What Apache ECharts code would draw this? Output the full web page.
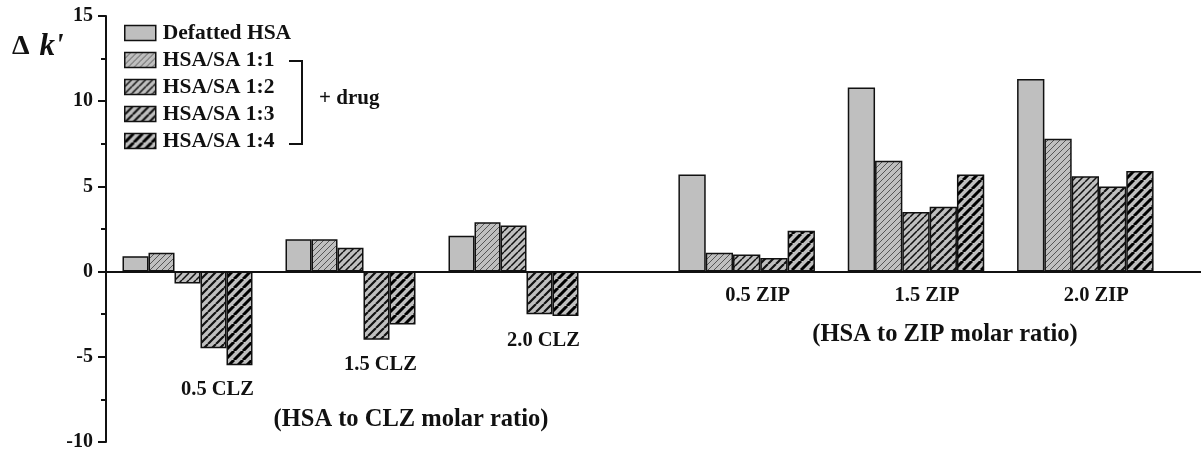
<!DOCTYPE html>
<html>
<head>
<meta charset="utf-8">
<script src="https://cdn.jsdelivr.net/npm/echarts@6/dist/echarts.min.js"></script>
<style>
html,body{margin:0;padding:0;background:#fff;}
#chart{width:1201px;height:455px;}
</style>
</head>
<body>
<div id="chart"></div>
<script>
// ---- data ----
const categoriesCLZ = ['0.5 CLZ', '1.5 CLZ', '2.0 CLZ'];
const categoriesZIP = ['0.5 ZIP', '1.5 ZIP', '2.0 ZIP'];
const seriesNames = ['Defatted HSA', 'HSA/SA 1:1', 'HSA/SA 1:2', 'HSA/SA 1:3', 'HSA/SA 1:4'];
const clzDefatted = [0.9, 1.9, 2.1];
const clz11 = [1.1, 1.9, 2.9];
const clz12 = [-0.7, 1.4, 2.7];
const clz13 = [-4.5, -4.0, -2.5];
const clz14 = [-5.5, -3.1, -2.6];
const zipDefatted = [5.7, 10.8, 11.3];
const zip11 = [1.1, 6.5, 7.8];
const zip12 = [1.0, 3.5, 5.6];
const zip13 = [0.8, 3.8, 5.0];
const zip14 = [2.4, 5.7, 5.9];
const yTickLabels = ['-10', '-5', '0', '5', '10', '15'];
const yMin = -10, yMax = 15, yInterval = 5;
const clzTitle = '(HSA to CLZ molar ratio)';
const zipTitle = '(HSA to ZIP molar ratio)';
const drugNote = '+ drug';

// ---- styles ----
const FONT = '"Liberation Serif", "Times New Roman", serif';
const GRAY = '#bfbfbf';
function hatch(lineColor, lw, s) {
  const c = document.createElement('canvas');
  c.width = s; c.height = s;
  const ctx = c.getContext('2d');
  ctx.fillStyle = GRAY;
  ctx.fillRect(0, 0, s, s);
  ctx.strokeStyle = lineColor;
  ctx.lineWidth = lw;
  ctx.beginPath();
  for (const k of [-s, 0, s]) {
    ctx.moveTo(k, s);
    ctx.lineTo(k + s, 0);
  }
  ctx.stroke();
  return { image: c, repeat: 'repeat' };
}
const fills = [
  GRAY,
  hatch('#555', 1, 6),
  hatch('#111', 1.5, 7),
  hatch('#111', 2.2, 8),
  hatch('#000', 3, 9)
];
const clzData = [clzDefatted, clz11, clz12, clz13, clz14];
const zipData = [zipDefatted, zip11, zip12, zip13, zip14];

function groupMins(data, cats) {
  return cats.map((c, i) => ({ name: c, value: Math.min(0, ...data.map(s => s[i])) }));
}

const gridTop = 16, gridBottom = 13;
const series = [];
seriesNames.forEach((n, k) => {
  const base = {
    type: 'bar', name: n, barGap: '0%',
    itemStyle: { color: fills[k], borderColor: '#111', borderWidth: 1.5 }
  };
  series.push(Object.assign({}, base, { xAxisIndex: 1, yAxisIndex: 1, barWidth: 26, data: clzData[k] }));
  series.push(Object.assign({}, base, { xAxisIndex: 2, yAxisIndex: 2, barWidth: 27.3, data: zipData[k] }));
});
const catLabel = { show: true, position: 'bottom', distance: 14, fontFamily: FONT, fontWeight: 'bold', fontSize: 20.5, color: '#111', opacity: 1, formatter: p => p.name };
series.push({ type: 'scatter', name: 'clzLabels', xAxisIndex: 1, yAxisIndex: 1, symbolSize: 0, silent: true,
  itemStyle: { opacity: 1 },
  label: Object.assign({}, catLabel, { offset: [30, 0] }), data: groupMins(clzData, categoriesCLZ) });
series.push({ type: 'scatter', name: 'zipLabels', xAxisIndex: 2, yAxisIndex: 2, symbolSize: 0, silent: true,
  itemStyle: { opacity: 1 },
  label: Object.assign({}, catLabel, { offset: [11, 0] }), data: groupMins(zipData, categoriesZIP) });

const hiddenY = (gi) => ({ type: 'value', gridIndex: gi, min: yMin, max: yMax, interval: yInterval, show: false });
const hiddenX = (gi, cats) => ({ type: 'category', gridIndex: gi, data: cats, axisLine: { show: false }, axisTick: { show: false }, axisLabel: { show: false } });

const option = {
  animation: false,
  backgroundColor: '#fff',
  grid: [
    { left: 106, right: 0, top: gridTop, bottom: gridBottom },
    { left: 106, width: 489, top: gridTop, bottom: gridBottom },
    { left: 662, width: 508, top: gridTop, bottom: gridBottom }
  ],
  xAxis: [
    { type: 'category', gridIndex: 0, data: [''], axisLine: { show: true, onZero: true, lineStyle: { color: '#111', width: 2 } }, axisTick: { show: false }, axisLabel: { show: false } },
    hiddenX(1, categoriesCLZ),
    hiddenX(2, categoriesZIP)
  ],
  yAxis: [
    { type: 'value', gridIndex: 0, min: yMin, max: yMax, interval: yInterval,
      axisLine: { show: true, lineStyle: { color: '#111', width: 2 } },
      axisTick: { show: true, length: 8, lineStyle: { color: '#111', width: 2 } },
      minorTick: { show: true, splitNumber: 2, length: 5, lineStyle: { color: '#111', width: 2 } },
      splitLine: { show: false },
      axisLabel: { margin: 13, fontFamily: FONT, fontWeight: 'bold', fontSize: 20, color: '#111',
        formatter: v => yTickLabels[Math.round((v - yMin) / yInterval)] } },
    hiddenY(1), hiddenY(2)
  ],
  legend: {
    data: seriesNames, orient: 'vertical', left: 124, top: 22, padding: 0,
    itemWidth: 31, itemHeight: 15, itemGap: 5, icon: 'rect',
    itemStyle: { borderColor: '#111', borderWidth: 1.5 },
    textStyle: { fontFamily: FONT, fontWeight: 'bold', fontSize: 21.5, lineHeight: 21, color: '#111', padding: [0, 0, 0, 2] }
  },
  graphic: [
    { type: 'text', left: 12, top: 31, style: { text: '{a|Δ}{b|k\'}', rich: {
        a: { fontFamily: FONT, fontSize: 28, fontWeight: 'bold', fill: '#111' },
        b: { fontFamily: FONT, fontSize: 31, fontWeight: 'bold', fontStyle: 'italic', fill: '#111', padding: [0, 0, 0, 10] } } } },
    { type: 'polyline', shape: { points: [[289, 61], [302, 61], [302, 144], [289, 144]] }, style: { stroke: '#111', lineWidth: 2, fill: null } },
    { type: 'text', x: 319, y: 99, style: { text: drugNote, fontFamily: FONT, fontWeight: 'bold', fontSize: 21, fill: '#111', verticalAlign: 'middle' } },
    { type: 'text', x: 411, y: 420, style: { text: clzTitle, fontFamily: FONT, fontWeight: 'bold', fontSize: 24.5, fill: '#111', align: 'center', verticalAlign: 'middle' } },
    { type: 'text', x: 945, y: 335, style: { text: zipTitle, fontFamily: FONT, fontWeight: 'bold', fontSize: 24.5, fill: '#111', align: 'center', verticalAlign: 'middle' } }
  ],
  series: series
};
const chart = echarts.init(document.getElementById('chart'), null, { renderer: 'canvas' });
chart.setOption(option);
</script>
</body>
</html>
